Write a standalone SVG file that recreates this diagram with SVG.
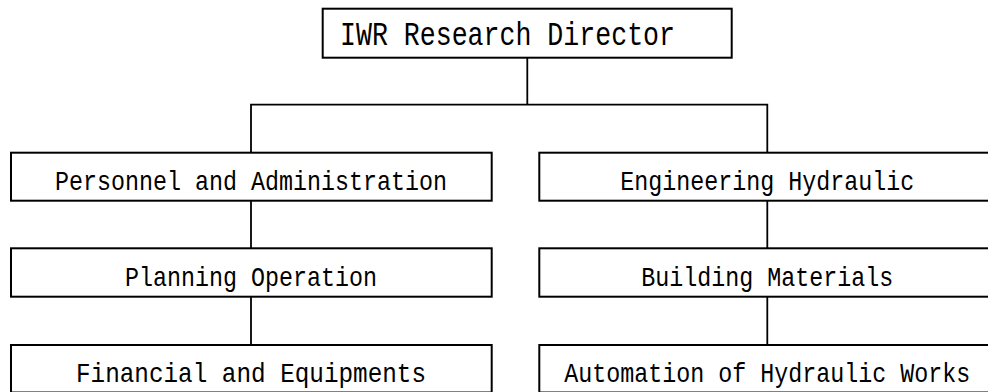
<svg xmlns="http://www.w3.org/2000/svg" width="988" height="392" viewBox="0 0 988 392">
  <style>
    .box { fill: #ffffff; stroke: #000000; stroke-width: 2; }
    .link { fill: none; stroke: #000000; stroke-width: 1.8; }
    .lbl { font-family: "Liberation Mono", "DejaVu Sans Mono", monospace; font-size: 28px; fill: #000000; text-anchor: middle; }
    .title { font-family: "Liberation Mono", "DejaVu Sans Mono", monospace; font-size: 34px; fill: #000000; }
  </style>
  <rect width="988" height="392" fill="#ffffff"/>

  <!-- connectors -->
  <g id="connectors">
    <path class="link" d="M527.3 57.7 V104.7 M251 152.7 V104.7 H767.3 V152.7"/>
    <path class="link" d="M251 200.7 V248.3 M251 296.7 V345"/>
    <path class="link" d="M767.3 200.7 V248.3 M767.3 296.7 V345"/>
  </g>

  <g id="director">
    <rect class="box" x="322.7" y="8.7" width="409" height="49"/>
    <text class="title" x="340" y="45" textLength="335" lengthAdjust="spacingAndGlyphs">IWR Research Director</text>
  </g>

  <g id="personnel">
    <rect class="box" x="11" y="152.7" width="480.7" height="48"/>
    <text class="lbl" x="251" y="190" textLength="392" lengthAdjust="spacingAndGlyphs">Personnel and Administration</text>
  </g>
  <g id="planning">
    <rect class="box" x="11" y="248.3" width="480.7" height="48.4"/>
    <text class="lbl" x="251" y="285.7" textLength="252" lengthAdjust="spacingAndGlyphs">Planning Operation</text>
  </g>
  <g id="financial">
    <rect class="box" x="11" y="345" width="480.7" height="47.5"/>
    <text class="lbl" x="251" y="382.4" textLength="350" lengthAdjust="spacingAndGlyphs">Financial and Equipments</text>
  </g>

  <g id="engineering">
    <rect class="box" x="539.3" y="152.7" width="460" height="48"/>
    <text class="lbl" x="767.3" y="190" textLength="294" lengthAdjust="spacingAndGlyphs">Engineering Hydraulic</text>
  </g>
  <g id="materials">
    <rect class="box" x="539.3" y="248.3" width="460" height="48.4"/>
    <text class="lbl" x="767.3" y="285.7" textLength="252" lengthAdjust="spacingAndGlyphs">Building Materials</text>
  </g>
  <g id="automation">
    <rect class="box" x="539.3" y="345" width="460" height="47.5"/>
    <text class="lbl" x="767.3" y="382.4" textLength="406" lengthAdjust="spacingAndGlyphs">Automation of Hydraulic Works</text>
  </g>
</svg>
